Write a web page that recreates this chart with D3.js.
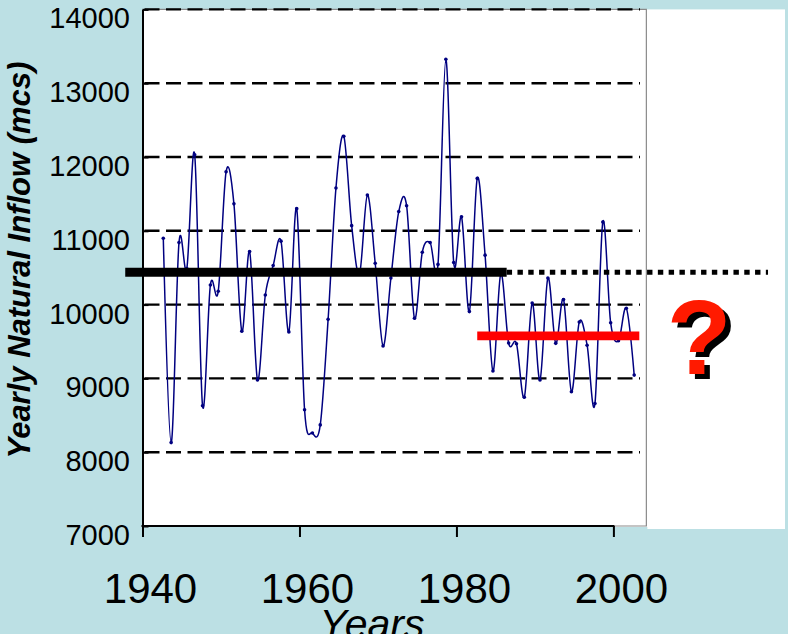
<!DOCTYPE html>
<html>
<head>
<meta charset="utf-8">
<script src="https://cdn.jsdelivr.net/npm/d3@7"></script>
<style>
  html, body { margin: 0; padding: 0; background: #bce0e4; }
  svg { display: block; font-family: "Liberation Sans", Arial, sans-serif; }
</style>
</head>
<body>
<svg id="chart" width="788" height="634"></svg>
<script>
// ---------------- data ----------------
const years = d3.range(1943, 2004); // 1943 .. 2003
const inflow = [
  10900, 8130, 10840, 10490, 12030, 8630, 10265, 10180, 11800, 11365,
  9640, 10720, 8980, 10130, 10530, 10860, 9630, 11300, 8575, 8260,
  8370, 9800, 11580, 12280, 11070, 10415, 11485, 10560, 9440, 10360,
  11260, 11340, 9815, 10710, 10840, 10545, 13325, 10570, 11190, 9905,
  11710, 10670, 9100, 10420, 9480, 9470, 8745, 10020, 8980, 10360,
  9475, 10070, 8820, 9765, 9450, 8660, 11120, 9755, 9510, 9950,
  9045
];
const yTicks = [7000, 8000, 9000, 10000, 11000, 12000, 13000, 14000];
const xTicks = [1940, 1960, 1980, 2000];
// long-term mean (solid then dotted projection) and recent mean
const meanNames  = ["long-term", "projection", "recent"];
const meanValues = [10440, 10440, 9575];
const meanFrom   = [1937.8, 1986.4, 1982.65];
const meanTo     = [1986.4, 2019.7, 2003.3];

// ---------------- layout ----------------
const svg = d3.select("#chart");
const W = 788, H = 634;
const X_OFFSET = -0.35; // points sit slightly left of the year tick in the original

const x = d3.scaleLinear().domain([1940, 2000]).range([142.5, 613.4]);
const y = d3.scaleLinear().domain([7000, 14000]).range([526, 9.4]);
const xRight = 2004.2;

svg.append("rect").attr("width", W).attr("height", H).attr("fill", "#bce0e4");
// white panel
svg.append("rect")
  .attr("x", x(1940)).attr("y", y(14000))
  .attr("width", 785 - x(1940)).attr("height", 529 - y(14000))
  .attr("fill", "#ffffff");
svg.append("rect")
  .attr("x", x(1940) - 1).attr("y", y(7000) + 1)
  .attr("width", x(xRight) - x(1940) + 2).attr("height", 4)
  .attr("fill", "#bce0e4");

// plot border (gray top/right)
svg.append("path")
  .attr("d", `M${x(1940)},${y(14000)}H${x(xRight)}V${y(7000)}H${x(2000)}`)
  .attr("fill", "none").attr("stroke", "#8a8a8a").attr("stroke-width", 1.2);

// dashed gridlines
svg.append("g").selectAll("line")
  .data(yTicks.filter(v => v > 7000))
  .join("line")
  .attr("x1", x(1940) + 2).attr("x2", 640)
  .attr("y1", d => y(d)).attr("y2", d => y(d))
  .attr("stroke", "#000").attr("stroke-width", 2.4)
  .attr("stroke-dasharray", "15,6.5");

// ---------------- axes ----------------
const yAxis = d3.axisLeft(y).tickValues(yTicks).tickFormat(d3.format("d"))
  .tickSizeInner(-6).tickSizeOuter(0).tickPadding(12.5);
const gy = svg.append("g").attr("transform", `translate(${x(1940)},0)`).call(yAxis);
gy.select(".domain").attr("stroke", "#000").attr("stroke-width", 2);
gy.selectAll(".tick line").attr("stroke", "#000").attr("stroke-width", 2);
gy.selectAll(".tick text")
  .attr("dy", 18.4)
  .attr("font-size", 29)
  .attr("font-family", "Liberation Sans, Arial, sans-serif")
  .attr("fill", "#000");

const xAxis = d3.axisBottom(x).tickValues(xTicks).tickFormat(d3.format("d")).tickSizeInner(11).tickSizeOuter(0);
const gx = svg.append("g").attr("transform", `translate(0,${y(7000)})`).call(xAxis);
gx.select(".domain").remove();
gx.append("line").attr("x1", x(1940) - 1).attr("x2", x(2000) + 1)
  .attr("stroke", "#000").attr("stroke-width", 2);
gx.selectAll(".tick line").attr("stroke", "#000").attr("stroke-width", 2);
gx.selectAll(".tick text")
  .attr("y", 0).attr("dy", 77.3).attr("dx", 7.5)
  .attr("font-size", 42)
  .attr("font-family", "Liberation Sans, Arial, sans-serif")
  .attr("fill", "#000");

// axis titles
svg.append("text")
  .attr("transform", "translate(30,260) rotate(-90)")
  .attr("text-anchor", "middle")
  .attr("font-size", 31).attr("font-weight", "bold").attr("font-style", "italic")
  .attr("fill", "#000")
  .text("Yearly Natural Inflow (mcs)");
svg.append("text")
  .attr("x", 372).attr("y", 638)
  .attr("text-anchor", "middle")
  .attr("font-size", 41).attr("font-style", "italic")
  .attr("fill", "#000")
  .text("Years");

// ---------------- series ----------------
const data = years.map((yr, i) => ({ year: yr, value: inflow[i] }));
const line = d3.line()
  .x(d => x(d.year + X_OFFSET))
  .y(d => y(d.value))
  .curve(d3.curveCardinal.tension(0));
svg.append("path")
  .datum(data)
  .attr("d", line)
  .attr("fill", "none").attr("stroke", "#000080").attr("stroke-width", 1.5);
svg.append("g").selectAll("circle")
  .data(data).join("circle")
  .attr("cx", d => x(d.year + X_OFFSET)).attr("cy", d => y(d.value))
  .attr("r", 1.8).attr("fill", "#000080");

// ---------------- mean lines ----------------
const means = meanNames.map((n, i) => ({ name: n, value: meanValues[i], from: meanFrom[i], to: meanTo[i] }));
const meanStyle = {
  "long-term":  { stroke: "#000",    width: 9,   dash: null },
  "projection": { stroke: "#000",    width: 5,   dash: "5.4,5.4" },
  "recent":     { stroke: "#ff0000", width: 8.7, dash: null }
};
svg.append("g").selectAll("line")
  .data(means).join("line")
  .attr("x1", d => x(d.from)).attr("x2", d => x(d.to))
  .attr("y1", d => y(d.value)).attr("y2", d => y(d.value))
  .attr("stroke", d => meanStyle[d.name].stroke)
  .attr("stroke-width", d => meanStyle[d.name].width)
  .attr("stroke-dasharray", d => meanStyle[d.name].dash);

// question mark with shadow
const q = svg.append("g").attr("font-size", 106).attr("font-weight", "bold")
  .attr("font-family", "Liberation Sans, Arial, sans-serif").attr("text-anchor", "middle");
q.append("text").attr("x", 704.5).attr("y", 379).attr("fill", "#000").text("?");
q.append("text").attr("x", 699).attr("y", 374).attr("fill", "#ff1a00").text("?");
</script>
</body>
</html>
